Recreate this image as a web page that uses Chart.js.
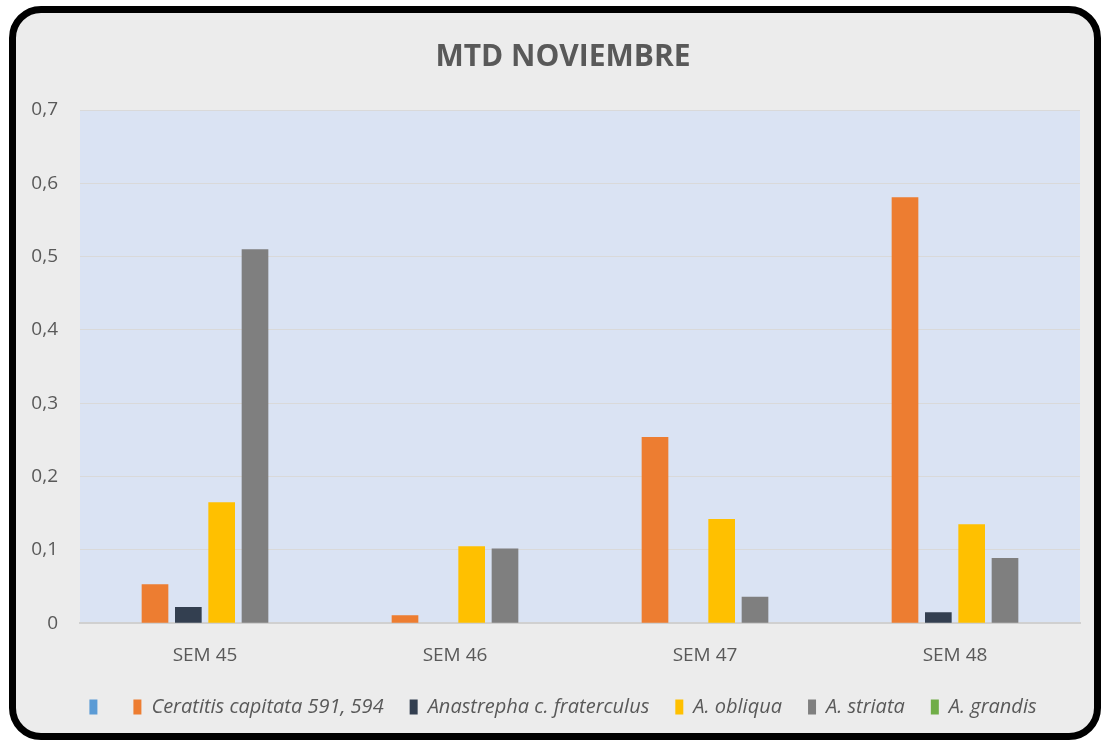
<!DOCTYPE html>
<html>
<head>
<meta charset="utf-8">
<script src="https://cdn.jsdelivr.net/npm/chart.js@4.4.1/dist/chart.umd.min.js"></script>
<style>
  html, body { margin: 0; padding: 0; background: #fff; }
  #frame {
    position: absolute; left: 9px; top: 6px;
    width: 1078px; height: 720px;
    border: 7px solid #000; border-radius: 32px;
    background: #ececec;
  }
  #chart { position: absolute; left: 0; top: 0; }
</style>
</head>
<body>
<div id="frame"></div>
<canvas id="chart" width="1108" height="745"></canvas>
<script>
// ─── DATA ─────────────────────────────────────────────────
const weeks = ['SEM 45', 'SEM 46', 'SEM 47', 'SEM 48'];
const seriesNames = ['', 'Ceratitis capitata 591, 594', 'Anastrepha c. fraterculus', 'A. obliqua', 'A. striata', 'A. grandis'];
const seriesColors = ['#5b9bd5', '#ed7d31', '#333f50', '#ffc000', '#7f7f7f', '#70ad47'];
const blank      = [0, 0, 0, 0];
const ceratitis  = [0.053, 0.011, 0.254, 0.581];
const fraterculus = [0.022, 0, 0, 0.015];
const obliqua    = [0.165, 0.105, 0.142, 0.135];
const striata    = [0.51, 0.102, 0.036, 0.089];
const grandis    = [0, 0, 0, 0];
const yTicks = [0, 0.1, 0.2, 0.3, 0.4, 0.5, 0.6, 0.7];

const seriesValues = [blank, ceratitis, fraterculus, obliqua, striata, grandis];
const FONT = "'Open Sans', sans-serif";
const TXT = '#595959';

// fill plot area background
const plotBg = {
    id: 'plotBg',
    beforeDraw(chart) {
        const a = chart.chartArea, ctx = chart.ctx;
        ctx.save();
        ctx.fillStyle = '#dae3f3';
        ctx.fillRect(a.left, a.top, a.right - a.left, a.bottom - a.top);
        ctx.restore();
    }
};

// title and legend sit a bit right of the canvas centre in the original
const nudge = {
    id: 'nudge',
    afterLayout(chart) {
        [chart.titleBlock, chart.legend].forEach(b => {
            if (!b) return;
            b.left += 13;
            b.right += 13;
        });
    }
};

new Chart(document.getElementById('chart'), {
    type: 'bar',
    data: {
        labels: weeks,
        datasets: seriesValues.map((vals, i) => ({
            label: seriesNames[i],
            data: vals,
            backgroundColor: seriesColors[i],
            borderWidth: 0,
            categoryPercentage: 0.8,
            barPercentage: 0.8,
        }))
    },
    options: {
        responsive: false,
        devicePixelRatio: 1,
        animation: false,
        layout: { padding: { left: 20, right: 28, top: 18, bottom: 18 } },
        plugins: {
            tooltip: { enabled: false },
            title: {
                display: true,
                text: 'MTD NOVIEMBRE',
                color: TXT,
                font: { family: FONT, size: 30, weight: 'bold' },
                padding: { top: 21, bottom: 35 },
            },
            legend: {
                position: 'bottom',
                labels: {
                    color: TXT,
                    boxWidth: 8,
                    boxHeight: 15,
                    padding: 26,
                    font: { family: FONT, size: 20, style: 'italic' },
                }
            }
        },
        scales: {
            x: {
                afterFit(scale) { scale.height = scale.height - 9; },
                grid: { display: false },
                border: { color: '#d0d0d0', width: 2 },
                ticks: { color: TXT, font: { family: FONT, size: 19 }, padding: 13 },
            },
            y: {
                min: 0, max: 0.7,
                afterFit(scale) { scale.width = 60; },
                afterBuildTicks(scale) { scale.ticks = yTicks.map(v => ({ value: v })); },
                grid: { color: '#d9d9d9', lineWidth: 1, drawTicks: false },
                border: { display: false },
                ticks: {
                    color: TXT,
                    padding: 22,
                    font: { family: FONT, size: 19 },
                    callback: v => String(Math.round(v * 10) / 10).replace('.', ','),
                },
            }
        }
    },
    plugins: [plotBg, nudge]
});
</script>
</body>
</html>
